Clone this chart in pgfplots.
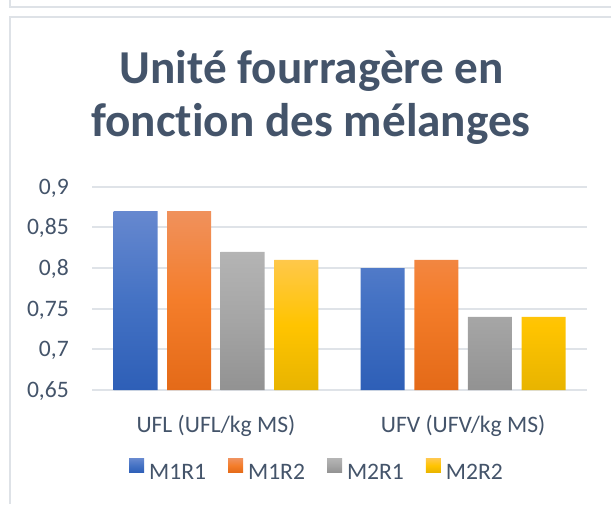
\documentclass[border=0pt]{standalone}
\usepackage{pgfplots}
\pgfplotsset{compat=1.18}
\usepackage{fontspec}
\setmainfont{Carlito}[Ligatures=NoCommon]
\definecolor{titlec}{HTML}{44546A}
\definecolor{labelc}{HTML}{44546A}
\definecolor{gridc}{HTML}{DFE3E8}
\definecolor{framec}{HTML}{DEE2E7}
\definecolor{b1}{HTML}{6688CF}\definecolor{b2}{HTML}{4472C4}\definecolor{b3}{HTML}{2E5FB7}
\definecolor{o1}{HTML}{F0915C}\definecolor{o2}{HTML}{F47D2A}\definecolor{o3}{HTML}{E46A18}
\definecolor{g1}{HTML}{B4B4B4}\definecolor{g2}{HTML}{A5A5A5}\definecolor{g3}{HTML}{929292}
\definecolor{y1}{HTML}{FFC84A}\definecolor{y2}{HTML}{FFC400}\definecolor{y3}{HTML}{E8B400}
\pgfplotsset{
  sqleg/.style={legend image code/.code={\fill[##1] (0pt,0pt) rectangle (15pt,14pt);}},
}
\begin{document}
\begin{tikzpicture}[x=1pt,y=1pt]
\path[use as bounding box] (0,0) rectangle (611,504);
\draw[framec, line width=2pt] (9.5,504) -- (9.5,496.7) -- (611,496.7);
\draw[framec, line width=2pt] (9.5,0) -- (9.5,487.3) -- (611,487.3);
\node[anchor=base, font=\fontsize{47.2}{56}\selectfont\bfseries, text=titlec, inner sep=0pt] at (311.5,420) {Unité fourragère en};
\node[anchor=base, font=\fontsize{47.2}{56}\selectfont\bfseries, text=titlec, inner sep=0pt] at (311,367) {fonction des mélanges};
\begin{axis}[
  at={(92.3pt,114pt)}, anchor=south west,
  scale only axis, width=494.4pt, height=203.3pt,
  xmin=-0.5, xmax=1.5, ymin=0.65, ymax=0.9,
  ybar=9.6pt, bar width=44pt,
  xtick={0,1}, xticklabels={UFL (UFL/kg MS), UFV (UFV/kg MS)},
  ytick={0.65,0.7,0.75,0.8,0.85,0.9},
  yticklabels={{0,65},{0,7},{0,75},{0,8},{0,85},{0,9}},
  axis line style={draw=none}, tick style={draw=none},
  ymajorgrids, grid style={line width=2pt, gridc},
  ticklabel style={font=\fontsize{23.6}{28}\selectfont, text=labelc, inner sep=0pt},
  yticklabel style={anchor=base east, xshift=-23.3pt, yshift=-7.4pt},
  xticklabel style={anchor=base, yshift=-38pt},
  legend columns=4,
  legend style={draw=none, fill=none, inner sep=0pt, outer sep=0pt,
    at={(0.4525,-0.4476)}, anchor=south,
    nodes={inner sep=0pt, text=labelc, font=\fontsize{23.6}{28}\selectfont},
    /tikz/every odd column/.append style={column sep=5pt},
    /tikz/every even column/.append style={column sep=22pt}},
]
\addplot[draw=none, top color=b1, bottom color=b3, middle color=b2, sqleg] coordinates {(0,0.87) (1,0.80)};
\addplot[draw=none, top color=o1, bottom color=o3, middle color=o2, sqleg] coordinates {(0,0.87) (1,0.81)};
\addplot[draw=none, top color=g1, bottom color=g3, middle color=g2, sqleg] coordinates {(0,0.82) (1,0.74)};
\addplot[draw=none, top color=y1, bottom color=y3, middle color=y2, sqleg] coordinates {(0,0.81) (1,0.74)};
\legend{M1R1, M1R2, M2R1, M2R2}
\end{axis}
\end{tikzpicture}
\end{document}
